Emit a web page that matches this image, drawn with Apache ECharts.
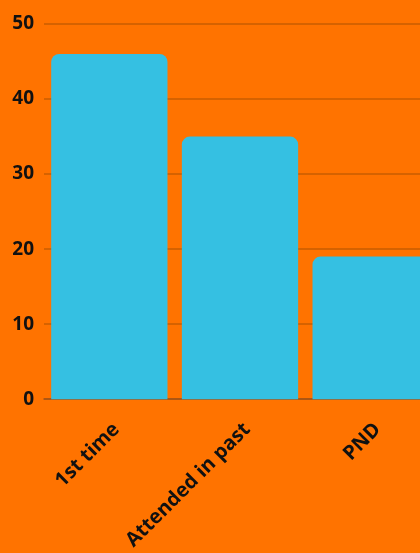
<!DOCTYPE html>
<html><head><meta charset="utf-8">
<script src="https://cdn.jsdelivr.net/npm/echarts@6/dist/echarts.min.js"></script>
<style>html,body{margin:0;padding:0;background:#FF7300;overflow:hidden;width:420px;height:553px;}#c{width:436px;height:553px;}</style>
</head><body><div id="c"></div>
<script>
const categories = ['1st time', 'Attended in past', 'PND'];
const values = [46, 35, 19];
const yTicks = { min: 0, max: 50, interval: 10 };

const chart = echarts.init(document.getElementById('c'));
chart.setOption({
  backgroundColor: '#FF7300',
  animation: false,
  grid: { left: 44, top: 24, right: 0, bottom: 151, containLabel: false },
  xAxis: {
    type: 'category',
    data: categories,
    axisLine: { show: true, lineStyle: { color: '#A0531A', width: 1.5 } },
    axisTick: { show: false },
    axisLabel: {
      rotate: 45, interval: 0, margin: 20, verticalAlign: 'top',
      color: '#111', fontSize: 20, fontWeight: 'bold', fontFamily: 'Open Sans'
    }
  },
  yAxis: {
    type: 'value',
    min: yTicks.min, max: yTicks.max, interval: yTicks.interval,
    axisLine: { show: false },
    axisTick: { show: false },
    splitLine: { lineStyle: { color: '#C95C00', width: 1.5 } },
    axisLabel: { color: '#111', fontSize: 19, fontWeight: 'bold', fontFamily: 'Open Sans', margin: 10 }
  },
  series: [{
    type: 'bar',
    data: values,
    barCategoryGap: '11%',
    itemStyle: { color: '#35C0E2', borderRadius: [8, 8, 0, 0] }
  }]
});
</script></body></html>
